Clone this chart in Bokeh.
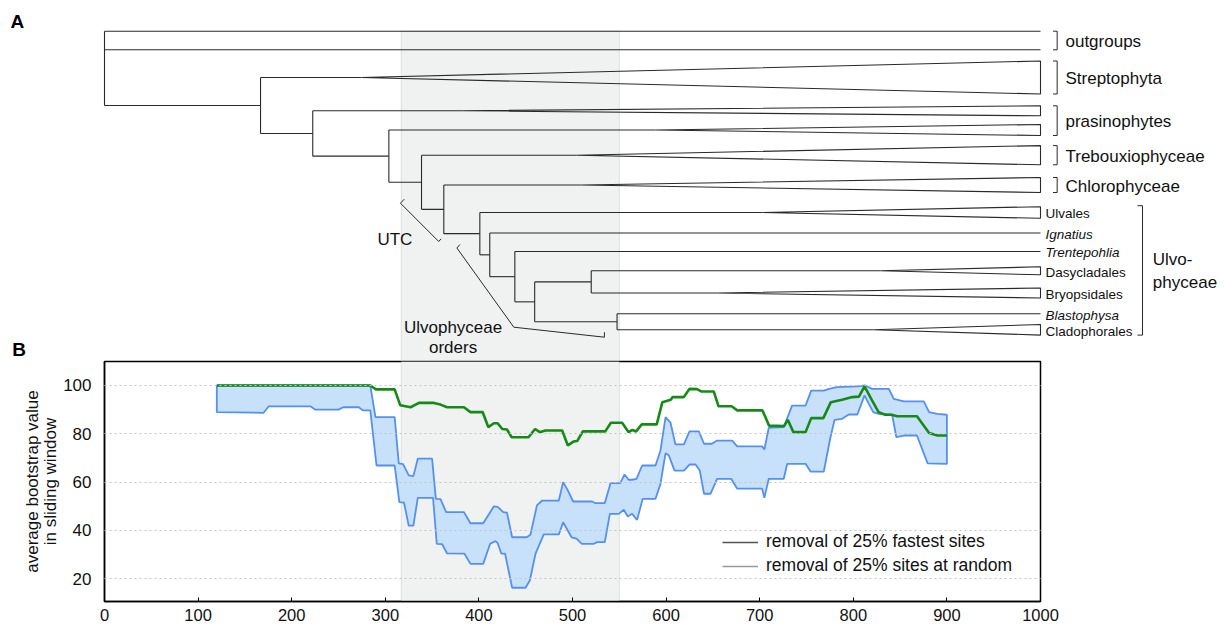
from bokeh.plotting import figure
from bokeh.models import Range1d, BoxAnnotation, Legend, LegendItem, FixedTicker
from bokeh.layouts import column
from bokeh.embed import file_html
from bokeh.resources import INLINE
from bokeh.core.properties import value

FONT = "Liberation Sans"

# ---------------- Panel B data (sliding-window bootstrap) ----------------
green_pts = [(120,100),(284,100),(290,98.4),(310,98.4),(316,91.8),(327,91),(336,92.8),(352,92.8),(359,92.1),
             (366,91),(384,91),(391,89),(404,89),(410,82.8),(416,84.4),(420,84.4),(425,82),(430,81.8),(435,78.6),
             (453,78.6),(460,82),(465,80.7),(471,81.4),(489,81.4),(495,75.2),(501,76.8),(505,77),(511,81),(535,81),
             (541,84.6),(553,84.6),(560,80.7),(564,81.6),(568,81),(574,83.9),(590,83.9),(596,93.1),(605,94.1),
             (607,95.2),(619,95.2),(625,98.6),(633,98.5),(638,97.5),(651,97.5),(656,91.4),(670,91.4),(676,89.7),
             (703,89.7),(710,83.4),(726,83.2),(730,85.8),(736,80.7),(749,80.7),(755,86.5),(768,86.5),(776,93.1),
             (788,94.1),(799,95.2),(806,95.4),(812,99.6),(820,93.8),(827,89),(834,87.9),(841,87.9),(847,87.3),
             (868,87.3),(881,80.3),(890,79.3),(900,79.3)]
upper_pts = [(120,100),(284,100),(289.5,86.9),(310,86.9),(314.4,67.8),(319,67.5),(325,62.8),(330,62.5),(334.7,69.7),
             (350,69.7),(354,53.1),(359,53),(365,47.6),(384,47.6),(391,43),(404.6,43),(416,50),(420,49.8),(426,47.6),
             (430,47.4),(435.5,37.2),(451,37.2),(455,38.2),(462,50.4),(467.6,52.4),(485.4,52.4),(490,60),(495,56.6),
             (500.7,52),(521,52),(524.6,51.3),(534.5,51.3),(540.6,59.6),(551,59.6),(555.6,63.2),(560,61),(563.6,61),
             (568.4,61.4),(574.4,66.9),(588.7,66.9),(594,73.1),(599.4,86.9),(604.7,84.6),(610,75.6),(619,75.6),
             (625,81),(635,81),(640.5,75.9),(649,75.9),(654.5,77.2),(670.6,77.2),(676,74.8),(702.6,74.8),(705,73.5),
             (709.7,82.5),(725.7,82.8),(734.6,91.7),(749,91.7),(755,97.9),(768.5,97.9),(774,98.6),(782.6,99.3),
             (804,99.6),(813,100),(820,98.6),(838,98.6),(843.2,94.5),(854,93.4),(875.3,93.4),(881,89),(889.6,88.3),
             (900,87.9)]
lower_pts = [(120,89),(170,88.7),(175.5,91.4),(220,91.4),(225.4,90),(250,90),(255,91),(271.7,91),(276,89.7),
             (284,89.7),(290.6,66.9),(310,66.9),(315,51.7),(320,51.5),(325,42),(330,42),(334.7,53.5),(351,53.5),
             (355,34.5),(360.7,34.4),(366,30.5),(384.6,30.4),(391,26.2),(404.6,26.2),(412,34.5),(417.7,35.6),
             (420,34.8),(424,30.4),(428,30.4),(435.5,16.3),(449.8,16.3),(454.4,19.3),(460.5,30.4),(469.3,38.4),
             (485.4,38.4),(490,43.4),(499,37.2),(504.3,36.6),(510,34.5),(522.8,34.5),(526.4,35.2),(534.5,35.2),
             (539.9,46.9),(549.5,46.9),(554.8,48.6),(559,45.8),(563.7,46.9),(569,44.4),(575,53.1),(588.7,53.1),
             (594,59.3),(599.4,72),(603,71),(609,64.8),(619,64.8),(625,67.3),(631.4,67.3),(636,64.8),(640.5,55.2),
             (647.4,55.2),(654.5,61.4),(669.5,61.4),(676,57.3),(702.6,57.3),(705,53.5),(709.7,61.4),(725.7,61.4),
             (729.4,67.6),(749,67.6),(754.3,64.4),(768.5,64.4),(775.6,78.6),(780,85.8),(788,86.2),(795.2,88),
             (804.4,88),(812,95.9),(816.6,92.4),(821.3,89),(827,88.3),(841.5,87.9),(846,78.6),(854,79.3),(868,79.3),
             (879.4,67.8),(900,67.6)]
window_region = (317, 550)
x_ticks = [0, 100, 200, 300, 400, 500, 600, 700, 800, 900, 1000]
y_ticks = [20, 40, 60, 80, 100]
legend_labels = ["removal of 25% fastest sites", "removal of 25% sites at random"]

# ---------------- Panel A data (tree) ----------------
tip_ids = ["og1", "og2", "strep", "pras1", "pras2", "treb", "chlo", "ulva", "igna", "tren", "dasy", "bryo", "blas", "clad"]
tip_pos = [30.7, 49.3, 77, 110.3, 129.5, 154.7, 184.5, 212, 232.5, 251, 270.3, 292.5, 313.3, 329.3]
tip_apex = [None, None, 274.6, 382.5, 588.7, 504.3, 509.6, 702.7, None, None, 829.1, 654.6, None, 821.6]
tip_half = [0, 0, 16.5, 5, 5.5, 9.6, 7.5, 5.8, 0, 0, 4, 5, 0, 5.3]
tip_end = 1000
children = {
    "root": ["og1", "og2", "A"], "A": ["strep", "B"], "B": ["pras1", "C"], "C": ["pras2", "D"],
    "D": ["treb", "E"], "E": ["chlo", "F"], "F": ["ulva", "G"], "G": ["igna", "H"], "H": ["tren", "I"],
    "I": ["J", "K"], "J": ["dasy", "bryo"], "K": ["blas", "clad"],
}
node_depth = {"root": 0, "A": 166.7, "B": 222.5, "C": 303.8, "D": 338.7, "E": 362.5, "F": 401,
              "G": 411.6, "H": 438.4, "I": 459.6, "J": 520, "K": 547.6}
small_label_ids = ["ulva", "igna", "tren", "dasy", "bryo", "blas", "clad"]
small_labels = ["Ulvales", "Ignatius", "Trentepohlia", "Dasycladales", "Bryopsidales", "Blastophysa", "Cladophorales"]
small_italic = [False, True, True, False, False, True, False]
group_labels = ["outgroups", "Streptophyta", "prasinophytes", "Trebouxiophyceae", "Chlorophyceae"]
group_members = [["og1", "og2"], ["strep"], ["pras1", "pras2"], ["treb"], ["chlo"]]
ulvo_members = small_label_ids

# ---------------- geometry / styles ----------------
SCALE = 0.936          # px per x unit
FRAME_LEFT_PX = 104
FIG_W = 1227
TREE_H = 360
PLOT_H = 268
TREE_COLOR = "#2a2a2a"
TEXT_COLOR = "#111111"
SHADE_FILL = "#eff2f1"
SHADE_LINE = "#9ca7a2"

tx0 = -FRAME_LEFT_PX / SCALE
tx1 = (FIG_W - FRAME_LEFT_PX) / SCALE

# ================= Tree figure =================
t = figure(width=FIG_W, height=TREE_H, x_range=Range1d(tx0, tx1), y_range=Range1d(TREE_H, 0),
           output_backend="svg", toolbar_location=None, x_axis_type=None, y_axis_type=None,
           min_border=0, min_border_left=0, min_border_right=0, min_border_top=0, min_border_bottom=0,
           frame_align=False)
t.outline_line_color = None
t.grid.visible = False

tip = {k: dict(y=y, apex=a, half=h) for k, y, a, h in zip(tip_ids, tip_pos, tip_apex, tip_half)}

t.add_layout(BoxAnnotation(left=window_region[0], right=window_region[1], top=tip_pos[0], bottom=TREE_H + 2,
                           fill_color=SHADE_FILL, fill_alpha=1, line_color=SHADE_LINE, line_width=1,
                           level="underlay"))

def ypos(n):
    if n in tip:
        return tip[n]["y"]
    ys = [ypos(c) for c in children[n]]
    return (ys[0] + ys[-1]) / 2

xs, ys = [], []
for n, ch in children.items():
    d = node_depth[n]
    cy = [ypos(c) for c in ch]
    xs.append([d, d]); ys.append([cy[0], cy[-1]])
    for c, yc in zip(ch, cy):
        if c in tip:
            info = tip[c]
            if info["apex"] is None:
                xs.append([d, tip_end]); ys.append([yc, yc])
            else:
                a, h = info["apex"], info["half"]
                xs.append([d, a]); ys.append([yc, yc])
                xs.append([a, tip_end, tip_end, a]); ys.append([yc, yc - h, yc + h, yc])
        else:
            xs.append([d, node_depth[c]]); ys.append([yc, yc])
t.multi_line(xs, ys, line_color=TREE_COLOR, line_width=1.1)

# group brackets
BR_X, BR_TICK = 1017.8, 1013.4
bx, by = [], []
gl_y = []
for members in group_members:
    top = min(tip[m]["y"] - tip[m]["half"] for m in members)
    bot = max(tip[m]["y"] + tip[m]["half"] for m in members)
    bx.append([BR_TICK, BR_X, BR_X, BR_TICK]); by.append([top, top, bot, bot])
    gl_y.append((top + bot) / 2)
UB_X, UB_TICK = 1109, 1103.6
utop = min(tip[m]["y"] - tip[m]["half"] for m in ulvo_members) - 1
ubot = max(tip[m]["y"] + tip[m]["half"] for m in ulvo_members)
bx.append([UB_TICK, UB_X, UB_X, UB_TICK]); by.append([utop, utop, ubot, ubot])
t.multi_line(bx, by, line_color=TREE_COLOR, line_width=1)

t.text(x=[1026.7] * len(group_labels), y=[v + 1 for v in gl_y], text=group_labels, text_font=value(FONT),
       text_font_size="17px", text_baseline="middle", text_align="left", text_color=TEXT_COLOR)
t.text(x=[1120, 1120], y=[(utop + ubot) / 2, (utop + ubot) / 2], text=["Ulvo-", "phyceae"],
       y_offset=[-11, 12], text_font=value(FONT), text_font_size="17px",
       text_baseline="middle", text_align="left", text_color=TEXT_COLOR)

for lab, tid, it in zip(small_labels, small_label_ids, small_italic):
    t.text(x=[1005.3], y=[tip[tid]["y"] + 1.2], text=[lab], text_font=value(FONT), text_font_size="13.5px",
           text_font_style="italic" if it else "normal", text_baseline="middle", text_align="left",
           text_color=TEXT_COLOR)

# callout brackets (annotation geometry)
utc_x = [320.2, 316.2, 357.1, 359.6]
utc_y = [198.7, 202.7, 241, 238.3]
ord_x = [379.7, 376.5, 437.3, 534.1, 534.1]
ord_y = [244, 247.5, 326.7, 336.7, 331.7]
t.multi_line([utc_x, ord_x], [utc_y, ord_y], line_color=TREE_COLOR, line_width=1)
t.text(x=[310.2, 372.4, 372.4], y=[239, 326.7, 346.7], text=["UTC", "Ulvophyceae", "orders"],
       text_font=value(FONT), text_font_size="17px", text_baseline="middle", text_align="center",
       text_color=TEXT_COLOR)

# panel letters
t.text(x=[-100.4, -98.6], y=[21, 349], text=["A", "B"], text_font=value(FONT), text_font_size="19px",
       text_font_style="bold", text_baseline="middle", text_align="left", text_color="#000000")

# ================= Bootstrap figure =================
p = figure(width=FIG_W, height=PLOT_H, x_range=Range1d(0, 1000), y_range=Range1d(10.62, 109.93),
           output_backend="svg", toolbar_location=None,
           min_border_left=FRAME_LEFT_PX, min_border_right=FIG_W - FRAME_LEFT_PX - 936,
           min_border_top=1, min_border_bottom=27, frame_align=False)
p.add_layout(BoxAnnotation(left=window_region[0], right=window_region[1], fill_color=SHADE_FILL, fill_alpha=1,
                           line_color=SHADE_LINE, line_width=1, level="underlay"))

ux = [a for a, b in upper_pts]; uy = [b for a, b in upper_pts]
lx = [a for a, b in lower_pts]; ly = [b for a, b in lower_pts]
gx = [a for a, b in green_pts]; gy = [b for a, b in green_pts]
p.patch(ux + lx[::-1], uy + ly[::-1], fill_color="#c8e1fb", fill_alpha=1,
        line_color="#5590ee", line_width=1.8)
p.line(gx, gy, line_color="#168a16", line_width=2.6)

p.xaxis.ticker = FixedTicker(ticks=x_ticks)
p.yaxis.ticker = FixedTicker(ticks=y_ticks)
p.xaxis.major_tick_in = 4
p.xaxis.major_tick_out = 0
p.yaxis.major_tick_in = 0
p.yaxis.major_tick_out = 0
p.axis.minor_tick_line_color = None
p.axis.axis_line_color = "black"
p.axis.axis_line_width = 1.5
p.axis.major_tick_line_color = "black"
p.axis.major_label_text_font = FONT
p.axis.major_label_text_color = TEXT_COLOR
p.xaxis.major_label_text_font_size = "16.5px"
p.yaxis.major_label_text_font_size = "17px"
p.xaxis.major_label_standoff = 7
p.yaxis.major_label_standoff = 13
p.yaxis.axis_label = "average bootstrap value\nin sliding window"
p.yaxis.axis_label_text_font = FONT
p.yaxis.axis_label_text_font_size = "17px"
p.yaxis.axis_label_text_font_style = "normal"
p.yaxis.axis_label_text_color = TEXT_COLOR
p.yaxis.axis_label_text_line_height = 0.95
p.yaxis.axis_label_standoff = 0
p.outline_line_color = "black"
p.outline_line_width = 1.5
p.outline_line_alpha = 1
p.xgrid.visible = False
p.ygrid.grid_line_color = "#c4c4c4"
p.ygrid.grid_line_dash = "2 3"
p.ygrid.grid_line_width = 1
p.ygrid.level = "guide"

r1 = p.line([0, 1], [-50, -50], line_color="#555555", line_width=1.5)
r2 = p.line([0, 1], [-50, -50], line_color="#9a9a9a", line_width=1.5)
legend = Legend(items=[LegendItem(label=legend_labels[0], renderers=[r1]),
                       LegendItem(label=legend_labels[1], renderers=[r2])],
                location=(618, 25), glyph_width=36, glyph_height=20, label_height=20, spacing=3,
                padding=0, margin=0, label_standoff=8, border_line_color=None, background_fill_alpha=0,
                label_text_font=FONT, label_text_font_size="17.5px", label_text_color=TEXT_COLOR)
p.add_layout(legend)

layout = column(t, p, spacing=0)
open("out.html", "w").write(file_html(layout, INLINE))
